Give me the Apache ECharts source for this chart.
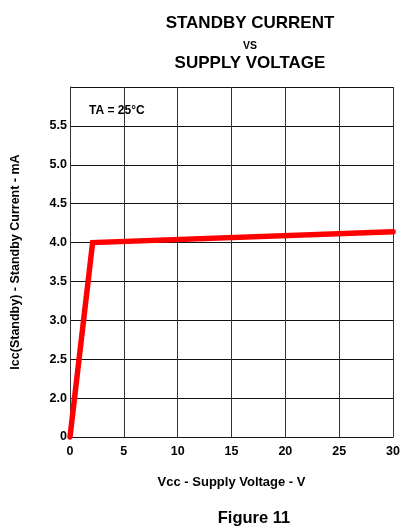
<!DOCTYPE html>
<html>
<head>
<meta charset="utf-8">
<script src="https://cdn.jsdelivr.net/npm/echarts@6/dist/echarts.min.js"></script>
<style>
  html, body { margin: 0; padding: 0; background: #fff; }
  #chart { width: 403px; height: 527px; }
</style>
</head>
<body>
<div id="chart"></div>
<script>
// Supply voltage (V) and standby current (mA)
const supplyVoltage = [0, 2.1, 30];
const standbyCurrent = [0, 4.0, 4.14];

// X ticks every 5 V; Y axis is broken between 0 and 2.0 mA
const xTicks = [0, 5, 10, 15, 20, 25, 30];
const yTickLabels = ['0', '2.0', '2.5', '3.0', '3.5', '4.0', '4.5', '5.0', '5.5', ''];

// The 0 mA baseline sits one division below 2.0 mA on the broken scale
const BREAK_BASE = 1.5;
function toBrokenScale(v) {
  return v < 2 ? BREAK_BASE + v * (2 - BREAK_BASE) / 2 : v;
}

const font = 'Arial, "Liberation Sans", Helvetica, sans-serif';
const chart = echarts.init(document.getElementById('chart'), null, { renderer: 'canvas' });

chart.setOption({
  backgroundColor: '#ffffff',
  animation: false,
  title: [
    { text: 'STANDBY CURRENT', left: 245, top: 10, textAlign: 'center',
      textStyle: { fontFamily: font, fontSize: 17, fontWeight: 'bold', color: '#000' } },
    { text: 'VS', left: 245, top: 36, textAlign: 'center',
      textStyle: { fontFamily: font, fontSize: 10.5, fontWeight: 'bold', color: '#000' } },
    { text: 'SUPPLY VOLTAGE', left: 245, top: 50, textAlign: 'center',
      textStyle: { fontFamily: font, fontSize: 17, fontWeight: 'bold', color: '#000' } },
    { text: 'Figure 11', left: 249, top: 505, textAlign: 'center',
      textStyle: { fontFamily: font, fontSize: 16.5, fontWeight: 'bold', color: '#000' } }
  ],
  grid: { left: 70, right: 9, top: 87, bottom: 90, containLabel: false },
  xAxis: {
    type: 'value',
    min: xTicks[0],
    max: xTicks[xTicks.length - 1],
    interval: 5,
    name: 'Vcc - Supply Voltage - V',
    nameLocation: 'middle',
    nameGap: 39,
    nameTextStyle: { fontFamily: font, fontSize: 13, fontWeight: 'bold', color: '#000' },
    axisLine: { show: true, lineStyle: { color: '#111', width: 1.2 } },
    axisTick: { show: false },
    axisLabel: {
      margin: 8,
      fontFamily: font, fontSize: 12.5, fontWeight: 'bold', color: '#000',
      formatter: v => String(v)
    },
    splitLine: { show: true, lineStyle: { color: '#333', width: 1 } }
  },
  yAxis: {
    type: 'value',
    min: 1.5,
    max: 6.0,
    interval: 0.5,
    name: 'Icc(Standby) - Standby Current - mA',
    nameLocation: 'middle',
    nameGap: 48,
    nameRotate: 90,
    nameTextStyle: { fontFamily: font, fontSize: 12.5, fontWeight: 'bold', color: '#000' },
    axisLine: { show: true, lineStyle: { color: '#333', width: 1 } },
    axisTick: { show: false },
    axisLabel: {
      margin: 3,
      fontFamily: font, fontSize: 12.5, fontWeight: 'bold', color: '#000',
      formatter: v => {
        const i = Math.round((v - BREAK_BASE) / 0.5);
        return yTickLabels[i] !== undefined ? yTickLabels[i] : '';
      }
    },
    splitLine: { show: true, lineStyle: { color: '#111', width: 1 } }
  },
  graphic: [
    { type: 'text', left: 89, top: 105,
      style: { text: 'TA = 25°C', font: 'bold 12px ' + font, fill: '#000' } }
  ],
  series: [{
    type: 'line',
    data: supplyVoltage.map((v, i) => [v, toBrokenScale(standbyCurrent[i])]),
    showSymbol: false,
    clip: false,
    lineStyle: { color: '#ff0000', width: 5.5, cap: 'round', join: 'miter' }
  }]
});
</script>
</body>
</html>
